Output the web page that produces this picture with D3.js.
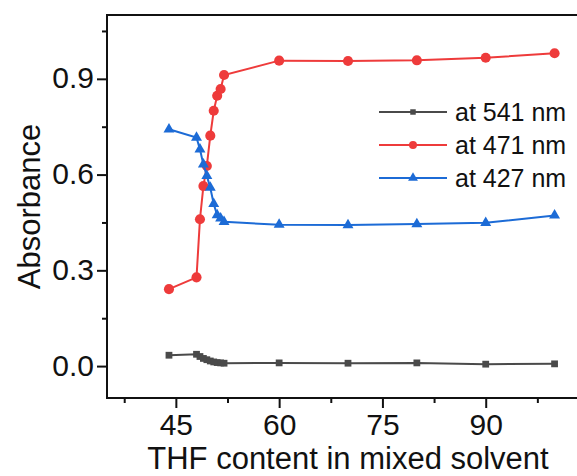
<!DOCTYPE html>
<html>
<head>
<meta charset="utf-8">
<script src="https://cdn.jsdelivr.net/npm/d3@7"></script>
<style>
  html, body { margin: 0; padding: 0; background: #fff; overflow: hidden; }
  svg { display: block; }
  text { font-family: "Liberation Sans", Arial, sans-serif; fill: #111; }
</style>
</head>
<body>
<svg id="chart" width="577" height="476"></svg>
<script>
// THF fraction (%) in the mixed solvent
const thf = [44, 48, 48.5, 49, 49.5, 50, 50.5, 51, 51.5, 52, 60, 70, 80, 90, 100];

// Absorbance readings at three wavelengths
const abs541 = [0.034, 0.037, 0.030, 0.024, 0.020, 0.016, 0.013, 0.011, 0.010, 0.009, 0.010, 0.009, 0.010, 0.006, 0.007];
const abs471 = [0.241, 0.278, 0.460, 0.564, 0.627, 0.722, 0.800, 0.847, 0.868, 0.912, 0.957, 0.956, 0.958, 0.966, 0.980];
const abs427 = [0.742, 0.716, 0.679, 0.632, 0.596, 0.559, 0.508, 0.473, 0.463, 0.452, 0.443, 0.442, 0.445, 0.449, 0.472];

const seriesNames = ["at 541 nm", "at 471 nm", "at 427 nm"];
const seriesColors = ["#4a4a4a", "#ee3b3b", "#1c6bd6"];
const seriesSymbols = [d3.symbolSquare, d3.symbolCircle, d3.symbolTriangle];

const xMajor = [45, 60, 75, 90];
const xMinor = [37.5, 52.5, 67.5, 82.5, 97.5];
const yMajor = [0.0, 0.3, 0.6, 0.9];
const yMinor = [0.15, 0.45, 0.75, 1.05];

const svg = d3.select("#chart");
const plotLeft = 107, plotTop = 15, plotRight = 589, plotBottom = 398;

const x = d3.scaleLinear().domain([35, 105]).range([plotLeft, plotRight]);
const y = d3.scaleLinear().domain([-0.1, 1.1]).range([plotBottom, plotTop]);

// Axes: major ticks with labels, minor ticks without
const fontTick = "30px";
const yAxis = svg.append("g").attr("transform", `translate(${plotLeft},0)`)
  .call(d3.axisLeft(y).tickValues(yMajor).tickFormat(d3.format(".1f")).tickSize(10).tickPadding(3));
svg.append("g").attr("transform", `translate(${plotLeft},0)`)
  .call(d3.axisLeft(y).tickValues(yMinor).tickFormat("").tickSize(5));
const xAxis = svg.append("g").attr("transform", `translate(0,${plotBottom})`)
  .call(d3.axisBottom(x).tickValues(xMajor).tickFormat(d3.format("d")).tickSize(10).tickPadding(6));
svg.append("g").attr("transform", `translate(0,${plotBottom})`)
  .call(d3.axisBottom(x).tickValues(xMinor).tickFormat("").tickSize(5));

svg.selectAll(".domain").remove();
svg.selectAll(".tick line").attr("stroke", "#111").attr("stroke-width", 2);
svg.selectAll(".tick text").style("font-size", fontTick).attr("fill", "#111")
  .style("font-family", "'Liberation Sans', Arial, sans-serif");
yAxis.selectAll(".tick text").attr("dy", "0.30em");

// Plot frame
svg.append("rect")
  .attr("x", plotLeft).attr("y", plotTop)
  .attr("width", plotRight - plotLeft).attr("height", plotBottom - plotTop)
  .attr("fill", "none").attr("stroke", "#111").attr("stroke-width", 2);

// Axis titles
svg.append("text")
  .attr("x", (plotLeft + plotRight) / 2).attr("y", 469)
  .attr("text-anchor", "middle").style("font-size", "31px")
  .text("THF content in mixed solvent");
svg.append("text")
  .attr("transform", `translate(40,${(plotTop + plotBottom) / 2}) rotate(-90)`)
  .attr("text-anchor", "middle").style("font-size", "31px")
  .text("Absorbance");

// Series lines and markers
const allSeries = [abs541, abs471, abs427];
const line = d3.line().x((d, i) => x(thf[i])).y(d => y(d));
const markerSize = [46, 80, 52];

allSeries.forEach((vals, k) => {
  svg.append("path").datum(vals)
    .attr("d", line)
    .attr("fill", "none")
    .attr("stroke", seriesColors[k])
    .attr("stroke-width", 2);
  svg.append("g").selectAll("path").data(vals).join("path")
    .attr("transform", (d, i) => `translate(${x(thf[i])},${y(d)})`)
    .attr("d", d3.symbol().type(seriesSymbols[k]).size(markerSize[k]))
    .attr("fill", seriesColors[k]);
});

// Legend
const legend = svg.append("g");
const legendRows = [112, 145, 178];
const legendMarker = [30, 50, 42];
seriesNames.forEach((name, k) => {
  const ry = legendRows[k];
  legend.append("line")
    .attr("x1", 379).attr("x2", 447).attr("y1", ry).attr("y2", ry)
    .attr("stroke", seriesColors[k]).attr("stroke-width", 2);
  legend.append("path")
    .attr("transform", `translate(413,${ry})`)
    .attr("d", d3.symbol().type(seriesSymbols[k]).size(legendMarker[k]))
    .attr("fill", seriesColors[k]);
  legend.append("text")
    .attr("x", 455).attr("y", ry).attr("dy", "0.36em")
    .style("font-size", "25px")
    .text(name);
});
</script>
</body>
</html>
